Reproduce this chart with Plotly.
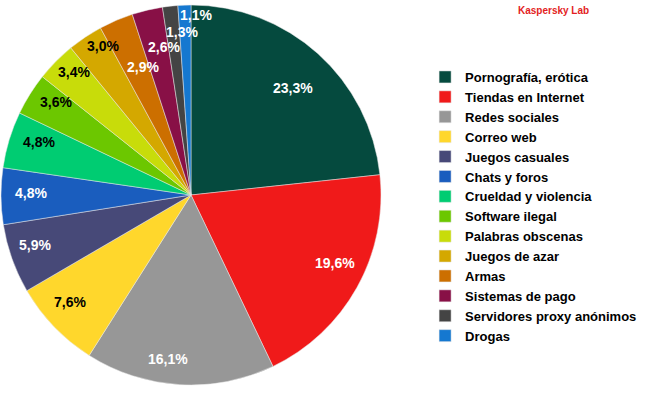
import math
import plotly.graph_objects as go

categories = ["Pornografía, erótica", "Tiendas en Internet", "Redes sociales", "Correo web",
              "Juegos casuales", "Chats y foros", "Crueldad y violencia", "Software ilegal",
              "Palabras obscenas", "Juegos de azar", "Armas", "Sistemas de pago",
              "Servidores proxy anónimos", "Drogas"]
values = [23.3, 19.6, 16.1, 7.6, 5.9, 4.8, 4.8, 3.6, 3.4, 3.0, 2.9, 2.6, 1.3, 1.1]

colors = ["#054A3E", "#F01A1A", "#979797", "#FFD72C", "#474978", "#1A5DBE", "#00CC72",
          "#6CC700", "#C8DC0A", "#D4A800", "#CC6F00", "#881046", "#444444", "#1578D0"]
text_colors = ["white", "white", "white", "black", "white", "white", "black", "black",
               "black", "black", "white", "white", "white", "white"]
# label placement: fraction of the radius and angular nudge (degrees) from slice mid-angle
label_radius = [0.78, 0.84, 0.87, 0.85, 0.86, 0.84, 0.85, 0.86, 0.89, 0.91, 0.72, 0.79, 0.86, 0.95]
label_nudge = [1.7, -3.9, 4.6, 2.2, 1.8, 1.1, 2.3, 2.5, 1.8, 3.4, 2.5, 2.8, 3.3, 3.7]

W, H = 650, 400
dom_x = [0, 382 / W]
dom_y = [15 / H, 395 / H]

fig = go.Figure(go.Pie(
    labels=categories, values=values, sort=False, direction="clockwise", rotation=0,
    marker=dict(colors=colors, line=dict(color="#e8e8e8", width=0.5)),
    textinfo="none",
    domain=dict(x=dom_x, y=dom_y),
    hoverinfo="label+percent",
))

# percentage labels placed from the data (mid-angle of each slice)
cx_px = (dom_x[0] + dom_x[1]) / 2 * W
cy_px = (dom_y[0] + dom_y[1]) / 2 * H
r_px = min((dom_x[1] - dom_x[0]) * W, (dom_y[1] - dom_y[0]) * H) / 2
total = sum(values)
annotations = []
cum = 0.0
for v, tc, k, nd in zip(values, text_colors, label_radius, label_nudge):
    mid = (cum + v / 2) / total * 2 * math.pi + math.radians(nd)
    cum += v
    x = (cx_px + k * r_px * math.sin(mid)) / W
    y = (cy_px + k * r_px * math.cos(mid)) / H
    annotations.append(dict(text=f"{v:.1f}%".replace(".", ","), x=x, y=y, xref="paper", yref="paper",
                            xanchor="center", yanchor="middle", showarrow=False,
                            font=dict(family="Liberation Sans, Arial", size=14, color=tc, weight="bold")))

annotations.append(dict(text="Kaspersky Lab", x=553 / W, y=1 - 10 / H, xref="paper", yref="paper",
                        xanchor="center", yanchor="middle", showarrow=False,
                        font=dict(family="Liberation Sans, Arial", size=10, color="#E31E24", weight="bold")))

fig.update_layout(
    width=W, height=H, margin=dict(l=0, r=0, t=0, b=0),
    paper_bgcolor="white", plot_bgcolor="white",
    legend=dict(x=0.654, y=0.845, xanchor="left", yanchor="top",
                font=dict(family="Liberation Sans, Arial", size=13, color="black", weight="bold"),
                bgcolor="rgba(0,0,0,0)"),
    annotations=annotations,
)
fig.write_html("out.html", config={"displayModeBar": False},
               post_script="document.body.style.margin='0px';")
